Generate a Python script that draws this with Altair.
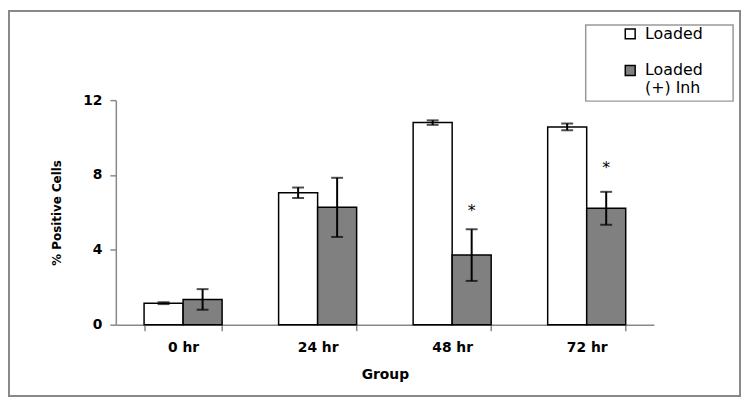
import altair as alt
import pandas as pd

groups = ["0 hr", "24 hr", "48 hr", "72 hr"]
series = ["Loaded", "Loaded (+) Inh"]
loaded_mean = [1.15, 7.05, 10.80, 10.57]
loaded_err = [0.05, 0.28, 0.12, 0.18]
inh_mean = [1.35, 6.27, 3.72, 6.22]
inh_err = [0.55, 1.58, 1.38, 0.88]
star_groups = ["48 hr", "72 hr"]
star_y = [6.3, 8.6]
y_ticks = [0, 4, 8, 12]

rows = []
for g, m, e in zip(groups, loaded_mean, loaded_err):
    rows.append({"group": g, "series": series[0], "mean": m, "lo": m - e, "hi": m + e})
for g, m, e in zip(groups, inh_mean, inh_err):
    rows.append({"group": g, "series": series[1], "mean": m, "lo": m - e, "hi": m + e})
df = pd.DataFrame(rows)
stars = pd.DataFrame({"group": star_groups, "series": [series[1]] * 2, "y": star_y, "t": ["*", "*"]})

FONT = "DejaVu Sans"

x = alt.X("group:N", sort=groups,
          scale=alt.Scale(paddingInner=0.42, paddingOuter=0.21),
          axis=alt.Axis(title="Group", labelAngle=0, tickBand="extent", tickSize=6,
                        domainColor="#888", tickColor="#888", domainWidth=1.5, tickWidth=1.5,
                        labelFont=FONT, labelFontWeight="bold", labelFontSize=14,
                        labelColor="black", labelPadding=10,
                        titleFont=FONT, titleFontWeight="bold", titleFontSize=14,
                        titleColor="black", titlePadding=13))
xo = alt.XOffset("series:N", sort=series)
y = alt.Y("mean:Q", scale=alt.Scale(domain=[0, 12], nice=False),
          axis=alt.Axis(values=y_ticks, grid=False, tickSize=6, domainColor="#888",
                        tickColor="#888", domainWidth=1.5, tickWidth=1.5,
                        labelFont=FONT, labelFontWeight="bold", labelFontSize=14,
                        labelColor="black", labelPadding=8,
                        title="% Positive Cells", titleFont=FONT, titleFontWeight="bold",
                        titleFontSize=12, titleColor="black", titlePadding=19))

color = alt.Color("series:N", sort=series,
                  scale=alt.Scale(domain=series, range=["white", "#808080"]),
                  legend=alt.Legend(orient="none", legendX=512, legendY=-75, title=None,
                                    symbolType="square", symbolSize=100,
                                    symbolStrokeColor="black", symbolStrokeWidth=1.5,
                                    labelFont=FONT, labelFontSize=16, labelColor="black",
                                    labelOffset=7, rowPadding=21, padding=0,
                                    labelExpr="datum.label == 'Loaded (+) Inh' ? ['Loaded', '(+) Inh'] : datum.label"))

base = alt.Chart(df)
bars = base.mark_bar(stroke="black", strokeWidth=1.5).encode(x=x, xOffset=xo, y=y, color=color)
err = base.mark_rule(color="black", strokeWidth=2).encode(x=x, xOffset=xo, y="lo:Q", y2="hi:Q")
cap_hi = base.mark_tick(color="black", size=12, thickness=2).encode(x=x, xOffset=xo, y="hi:Q")
cap_lo = base.mark_tick(color="black", size=12, thickness=2).encode(x=x, xOffset=xo, y="lo:Q")
star = alt.Chart(stars).mark_text(font=FONT, fontSize=16, color="black", baseline="middle", dy=4).encode(
    x=alt.X("group:N", sort=groups), xOffset=alt.XOffset("series:N", sort=series),
    y="y:Q", text="t:N")

frame_df = pd.DataFrame({"a": [0]})
legend_box = alt.Chart(frame_df).mark_rect(filled=False, stroke="#999", strokeWidth=1.5).encode(
    x=alt.value(475), x2=alt.value(624), y=alt.value(-76), y2=alt.value(1))
frame = alt.Chart(frame_df).mark_rect(filled=False, stroke="#888", strokeWidth=2).encode(
    x=alt.value(-108), x2=alt.value(631), y=alt.value(-90), y2=alt.value(299))

chart = alt.layer(frame, legend_box, bars, err, cap_hi, cap_lo, star).properties(
    width=544, height=227,
    autosize=alt.AutoSizeParams(type="none"),
    padding={"left": 109, "top": 91, "right": 89, "bottom": 76},
).configure(background="white").configure_view(stroke=None)

chart.save("out.html", embed_options={"renderer": "svg", "actions": False})
